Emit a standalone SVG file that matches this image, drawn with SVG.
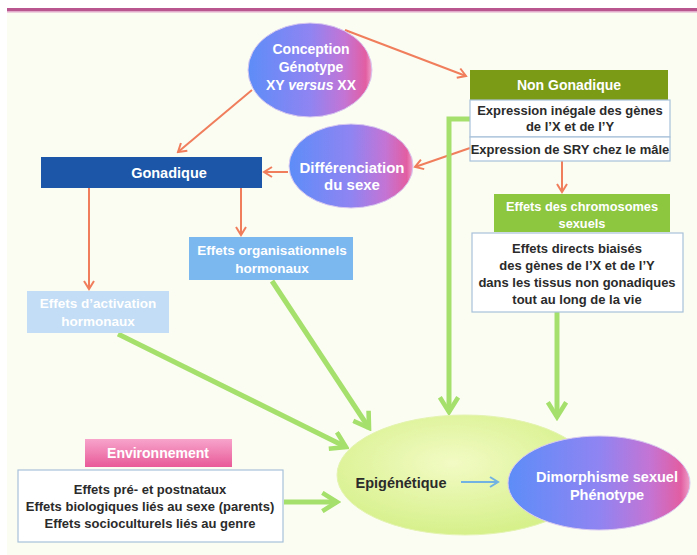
<svg xmlns="http://www.w3.org/2000/svg" width="697" height="555" viewBox="0 0 697 555">
<defs>
<linearGradient id="bp" x1="0" y1="0" x2="1" y2="0">
<stop offset="0" stop-color="#5d8df8"/>
<stop offset="0.5" stop-color="#8f84f2"/>
<stop offset="0.78" stop-color="#c474d4"/>
<stop offset="0.95" stop-color="#e25ea2"/>
<stop offset="1" stop-color="#eea0c8"/>
</linearGradient>
<radialGradient id="epi" cx="0.45" cy="0.4" r="0.6">
<stop offset="0" stop-color="#f2fbc4"/>
<stop offset="1" stop-color="#d6f08a"/>
</radialGradient>
<linearGradient id="pink" x1="0" y1="0" x2="0" y2="1">
<stop offset="0" stop-color="#f7a4cb"/>
<stop offset="1" stop-color="#e85a98"/>
</linearGradient>
<marker id="ao" viewBox="0 0 12 12" refX="10" refY="6" markerWidth="12" markerHeight="12" markerUnits="userSpaceOnUse" orient="auto">
<path d="M2,1 L10,6 L2,11" fill="none" stroke="#f07e5c" stroke-width="2"/>
</marker>
<marker id="ag" viewBox="0 0 24 24" refX="20" refY="12" markerWidth="22" markerHeight="22" markerUnits="userSpaceOnUse" orient="auto">
<path d="M4,2 L20,12 L4,22" fill="none" stroke="#a6e06c" stroke-width="5" stroke-linejoin="miter"/>
</marker>
<marker id="ab" viewBox="0 0 12 12" refX="10" refY="6" markerWidth="12" markerHeight="12" markerUnits="userSpaceOnUse" orient="auto">
<path d="M2,1 L10,6 L2,11" fill="none" stroke="#72b2e2" stroke-width="2"/>
</marker>
</defs>
<style>
text{font-family:"Liberation Sans",Arial,sans-serif;font-weight:bold;text-anchor:middle}
.w{fill:#ffffff}
.d{fill:#2b2b2b;font-size:13px}
.box{fill:#ffffff;stroke:#a9c1d9;stroke-width:1.2}
.or{fill:none;stroke:#f07e5c;stroke-width:2;marker-end:url(#ao)}
.gr{fill:none;stroke:#a6e06c;stroke-width:5;marker-end:url(#ag)}
</style>
<rect x="0" y="0" width="697" height="555" fill="#ffffff"/>
<rect x="7" y="8" width="690" height="547" fill="#fbfdf3"/>
<rect x="7" y="8" width="690" height="3" fill="#b9558f"/>
<rect x="7" y="11" width="690" height="1.5" fill="#e2aacb"/>

<g id="connectors">
<line class="or" x1="345" y1="30" x2="466" y2="76"/>
<line class="or" x1="252" y1="90" x2="178" y2="152"/>
<line class="or" x1="288" y1="172" x2="264" y2="172"/>
<line class="or" x1="470" y1="148" x2="415" y2="167"/>
<line class="or" x1="562" y1="161" x2="562" y2="192"/>
<line class="or" x1="89" y1="188" x2="89" y2="289"/>
<line class="or" x1="241" y1="188" x2="241" y2="235"/>
<polyline class="gr" points="470,119 449,119 449,412"/>
<line class="gr" x1="557" y1="312" x2="557" y2="417"/>
<line class="gr" x1="272" y1="281" x2="369" y2="428"/>
<line class="gr" x1="118" y1="334" x2="346" y2="447"/>
<line class="gr" x1="284" y1="502" x2="337" y2="502"/>
</g>

<g id="conception">
<ellipse cx="310" cy="70" rx="62" ry="47" fill="url(#bp)" stroke="#d8c8f0" stroke-width="1"/>
<text class="w" x="311" y="54" font-size="14">Conception</text>
<text class="w" x="311" y="72" font-size="14">Génotype</text>
<text class="w" x="311" y="90" font-size="14">XY <tspan font-style="italic">versus</tspan>  XX</text>
</g>

<g id="non-gonadique">
<rect x="470" y="70" width="198" height="30" fill="#7b9b16"/>
<text class="w" x="569" y="90" font-size="14">Non Gonadique</text>
<rect class="box" x="470" y="100" width="200" height="37"/>
<text class="d" x="570" y="115">Expression inégale des gènes</text>
<text class="d" x="570" y="131">de l’X et de l’Y</text>
<rect class="box" x="470" y="137" width="200" height="24"/>
<text class="d" x="570" y="154">Expression de SRY chez le mâle</text>
</g>

<g id="gonadique">
<rect x="41" y="157" width="221" height="31" fill="#1b56a8"/>
<text class="w" x="169" y="178" font-size="14.5">Gonadique</text>
</g>

<g id="differenciation">
<ellipse cx="351" cy="166" rx="62" ry="42" fill="url(#bp)" stroke="#d8c8f0" stroke-width="1"/>
<text class="w" x="352" y="173" font-size="15">Différenciation</text>
<text class="w" x="352" y="190" font-size="15">du sexe</text>
</g>

<g id="chromosomes">
<rect x="494" y="194" width="176" height="38" fill="#8dc63f"/>
<text class="w" x="582" y="211" font-size="12.8">Effets des chromosomes</text>
<text class="w" x="582" y="228" font-size="12.8">sexuels</text>
<rect class="box" x="472" y="233" width="211" height="79"/>
<text class="d" x="577" y="253">Effets directs biaisés</text>
<text class="d" x="577" y="270">des gènes de l’X et de l’Y</text>
<text class="d" x="577" y="287">dans les tissus non gonadiques</text>
<text class="d" x="577" y="304">tout au long de la vie</text>
</g>

<g id="organisationnels">
<rect x="189" y="237" width="164" height="43" fill="#7bb8f0"/>
<text class="w" x="272" y="255" font-size="13.5">Effets organisationnels</text>
<text class="w" x="272" y="273" font-size="13.5">hormonaux</text>
</g>

<g id="activation">
<rect x="27" y="291" width="142" height="42" fill="#c2ddf5"/>
<text class="w" x="98" y="308" font-size="13.5">Effets d’activation</text>
<text class="w" x="98" y="326" font-size="13.5">hormonaux</text>
</g>

<g id="environnement">
<rect x="85" y="439" width="147" height="28" fill="url(#pink)"/>
<text class="w" x="158" y="458" font-size="14">Environnement</text>
<rect class="box" x="18" y="470" width="265" height="72"/>
<text class="d" x="150" y="494">Effets pré- et postnataux</text>
<text class="d" x="150" y="511">Effets biologiques liés au sexe (parents)</text>
<text class="d" x="150" y="528">Effets socioculturels liés au genre</text>
</g>

<g id="epigenetique">
<ellipse cx="465" cy="475" rx="128" ry="60" fill="url(#epi)" stroke="#e4f4b0" stroke-width="1"/>
<text x="401" y="488" font-size="14.5" fill="#2b2b2b">Epigénétique</text>
</g>

<g id="dimorphisme">
<ellipse cx="599" cy="483" rx="91" ry="47" fill="url(#bp)" stroke="#d8c8f0" stroke-width="1"/>
<text class="w" x="607" y="482" font-size="14.5">Dimorphisme sexuel</text>
<text class="w" x="607" y="500" font-size="14.5">Phénotype</text>
</g>

<g id="epi-arrow">
<line x1="461" y1="482" x2="498" y2="482" stroke="#72b2e2" stroke-width="2" marker-end="url(#ab)"/>
</g>
</svg>
